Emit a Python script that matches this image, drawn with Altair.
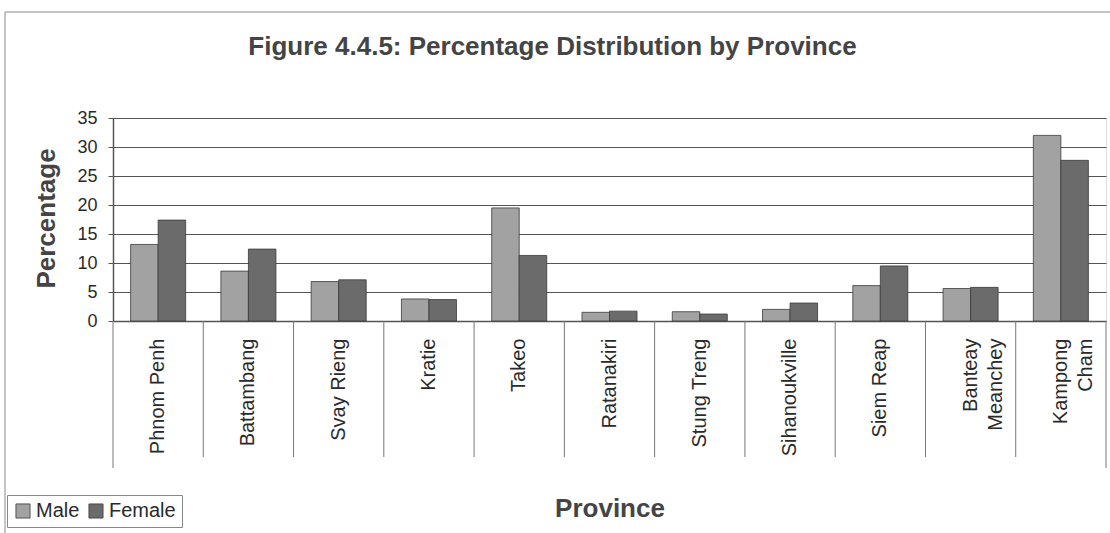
import altair as alt
import pandas as pd

# Provinces in display order and percentages by sex
provinces = ["Phnom Penh", "Battambang", "Svay Rieng", "Kratie", "Takeo",
             "Ratanakiri", "Stung Treng", "Sihanoukville", "Siem Reap",
             "Banteay Meanchey", "Kampong Cham"]
male = [13.2, 8.6, 6.8, 3.8, 19.5, 1.5, 1.6, 2.0, 6.1, 5.6, 32.0]
female = [17.4, 12.4, 7.1, 3.7, 11.3, 1.7, 1.2, 3.1, 9.5, 5.8, 27.7]
sexes = ["Male", "Female"]
y_ticks = [0, 5, 10, 15, 20, 25, 30, 35]

rows = []
for i, p in enumerate(provinces):
    rows.append({"Province": p, "Sex": "Male", "Percentage": male[i]})
    rows.append({"Province": p, "Sex": "Female", "Percentage": female[i]})
df = pd.DataFrame(rows)
prov_df = pd.DataFrame({"Province": provinces})

FONT = "Liberation Sans"
W, H = 993, 203
TEXT = "#2a2a2a"
TITLE_C = "#444444"

x_scale = alt.Scale(domain=provinces, paddingInner=0, paddingOuter=0)

bars = alt.Chart(df).mark_bar(stroke="#3a3a3a", strokeWidth=0.8).encode(
    x=alt.X("Province:N", scale=x_scale, sort=provinces,
            axis=alt.Axis(title="Province", labelAngle=-90, labelAlign="right",
                          labelBaseline="middle", labelPadding=17, ticks=False,
                          labelFontSize=20, labelColor=TEXT, labelFont=FONT,
                          labelExpr="datum.label == 'Banteay Meanchey' ? ['Banteay', 'Meanchey'] : datum.label == 'Kampong Cham' ? ['Kampong', 'Cham'] : datum.label",
                          labelLineHeight=25,
                          domainColor="#555555", domainWidth=1.5,
                          titleFontSize=26, titleFont=FONT, titleFontWeight="bold",
                          titleColor=TITLE_C, titleY=187, titleBaseline="middle")),
    xOffset=alt.XOffset("Sex:N", sort=sexes,
                        scale=alt.Scale(domain=sexes, paddingInner=0, paddingOuter=0.64)),
    y=alt.Y("Percentage:Q", scale=alt.Scale(domain=[0, 35], nice=False),
            axis=alt.Axis(values=y_ticks, title="Percentage", grid=True,
                          gridColor="#555555", gridWidth=1, ticks=True, tickSize=5,
                          tickColor="#555555", domainColor="#555555", domainWidth=1.5,
                          labelFontSize=18, labelColor=TEXT, labelFont=FONT,
                          labelPadding=11,
                          titleFontSize=26, titleFont=FONT, titleFontWeight="bold",
                          titleColor=TITLE_C, titleAngle=-90, titleX=-67,
                          titleY=100, titleAlign="center", titleBaseline="middle")),
    color=alt.Color("Sex:N", sort=sexes,
                    scale=alt.Scale(domain=sexes, range=["#a2a2a2", "#6b6b6b"]),
                    legend=alt.Legend(title=None, orient="none", legendX=-106, legendY=377,
                                      direction="horizontal", symbolType="square",
                                      symbolSize=200, symbolStrokeColor="#3a3a3a",
                                      symbolStrokeWidth=0.8, labelFontSize=20,
                                      labelFont=FONT, labelColor=TEXT,
                                      columnPadding=6, labelOffset=3,
                                      strokeColor="#888888", padding=6,
                                      fillColor="white")),
)

# Category separators extending below the axis (outer ones a little longer)
seps = alt.Chart(prov_df.iloc[1:]).mark_rule(color="#777777", strokeWidth=1).encode(
    x=alt.X("Province:N", scale=x_scale, sort=provinces, bandPosition=0),
    y=alt.value(H), y2=alt.value(H + 136),
)
first_sep = alt.Chart(prov_df.head(1)).mark_rule(color="#777777", strokeWidth=1).encode(
    x=alt.X("Province:N", scale=x_scale, sort=provinces, bandPosition=0),
    y=alt.value(H), y2=alt.value(H + 147),
)
last_sep = alt.Chart(prov_df.tail(1)).mark_rule(color="#777777", strokeWidth=1).encode(
    x=alt.X("Province:N", scale=x_scale, sort=provinces, bandPosition=1),
    y=alt.value(H), y2=alt.value(H + 147),
)

# Outer frame around the whole figure
frame = alt.Chart(pd.DataFrame({"k": [0]})).mark_rect(
    fill=None, stroke="#8a8a8a", strokeWidth=1).encode(
    x=alt.value(-108), x2=alt.value(1010), y=alt.value(-106), y2=alt.value(430)
)

chart = alt.layer(frame, bars, seps, first_sep, last_sep).properties(
    width=W, height=H,
    title=alt.TitleParams("Figure 4.4.5: Percentage Distribution by Province",
                          fontSize=26, font=FONT, fontWeight="bold", color=TITLE_C,
                          anchor="middle", dx=-57, offset=0, dy=48),
    autosize=alt.AutoSizeParams(type="none"),
    padding={"left": 113, "top": 118, "right": 4, "bottom": 212},
).configure_view(stroke="#666666", strokeWidth=1.5).configure(background="white")

chart.save("out.html", embed_options={"renderer": "svg", "actions": False})
